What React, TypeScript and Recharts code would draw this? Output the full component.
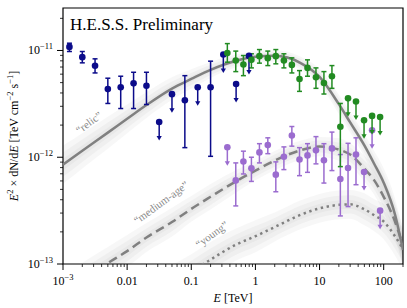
import React from 'react';
import {
  ComposedChart,
  XAxis,
  YAxis,
  Scatter,
  Line,
  Area,
  ErrorBar,
  ReferenceArea,
  ReferenceDot,
} from 'recharts';

// Fermi-LAT points (blue); null lo/hi = upper limit
const fermiE = [0.00126, 0.002, 0.00316, 0.005, 0.00794, 0.0126, 0.02, 0.0316, 0.05, 0.0794, 0.126, 0.2, 0.316, 0.5, 0.794];
const fermiFlux = [1.08e-11, 8.66e-12, 7.2e-12, 4.35e-12, 4.52e-12, 4.92e-12, 4.68e-12, 2.14e-12, 3.9e-12, 3.42e-12, 4.52e-12, 4.52e-12, 9.17e-12, 4.85e-12, 8.9e-12];
const fermiLo = [9.78e-12, 7.66e-12, 6.16e-12, 3.19e-12, 2.86e-12, 2.86e-12, 3.12e-12, null, null, 1.23e-12, null, 1.02e-12, null, null, null];
const fermiHi = [1.17e-11, 9.78e-12, 8.35e-12, 5.5e-12, 5.74e-12, 6.25e-12, 6.25e-12, null, null, 5.81e-12, null, 7.94e-12, null, null, null];

// H.E.S.S. energy bins (shared by green and purple)
const hessE = [0.365, 0.494, 0.65, 0.866, 1.155, 1.56, 2.08, 2.78, 3.7, 4.87, 6.49, 8.79, 11.7, 15.6, 21.1, 27.8, 37.0, 49.4, 65.9, 87.9];

const greenFlux = [9.45e-12, 8.05e-12, 7.38e-12, 8.17e-12, 8.85e-12, 8.48e-12, 8.85e-12, 8.05e-12, 7.33e-12, 5.41e-12, 6.87e-12, 5.61e-12, 4.96e-12, 5.74e-12, 1.93e-12, 3.56e-12, 3.33e-12, 2.22e-12, 2.44e-12, 2.38e-12];
const greenLo = [7.77e-12, 6.34e-12, 5.81e-12, 6.87e-12, 7.61e-12, 7.22e-12, 7.5e-12, 6.87e-12, 6.16e-12, 4.14e-12, 5.74e-12, 4.42e-12, 3.91e-12, 4.42e-12, 8.17e-13, null, null, null, null, null];
const greenHi = [1.16e-11, 9.87e-12, 8.97e-12, 9.31e-12, 1.02e-11, 9.87e-12, 1.02e-11, 9.31e-12, 8.53e-12, 6.48e-12, 8.17e-12, 6.87e-12, 6.34e-12, 7.22e-12, 3.19e-12, null, null, null, null, null];

const purpleFlux = [1.24e-12, 6.07e-13, 9.11e-13, 7.87e-13, 1.11e-12, 1.3e-12, 6.87e-13, 1.01e-12, 1.6e-12, 9.51e-13, 1.04e-12, 1.16e-12, 9.37e-13, 1.21e-12, 6.25e-13, 7.94e-13, 1.06e-12, 7.28e-13, 1.79e-12, 3.16e-13];
const purpleLo = [null, 3.5e-13, 6.97e-13, 5.94e-13, 8.85e-13, 1.08e-12, 4.75e-13, 7.66e-13, 1.27e-12, 6.72e-13, 7.22e-13, 8.67e-13, 5.73e-13, 7.5e-13, 2.82e-13, 3.45e-13, 5.53e-13, null, null, null];
const purpleHi = [null, 8.85e-13, 1.14e-12, 1.0e-12, 1.34e-12, 1.52e-12, 9.05e-13, 1.25e-12, 1.94e-12, 1.23e-12, 1.34e-12, 1.56e-12, 1.34e-12, 1.72e-12, 1.06e-12, 1.35e-12, 1.52e-12, null, null, null];

// model curves
const modelE = [0.001, 0.002, 0.005, 0.01, 0.02, 0.05, 0.1, 0.2, 0.5, 1, 2, 5, 10, 20, 30, 50, 70, 100, 150, 200];
const relicFlux = [8.53e-13, 1.15e-12, 1.7e-12, 2.29e-12, 3.08e-12, 4.4e-12, 5.41e-12, 6.58e-12, 8.0e-12, 8.72e-12, 8.91e-12, 7.66e-12, 5.65e-12, 3.14e-12, 2.12e-12, 1.29e-12, 8.83e-13, 5.77e-13, 2.91e-13, 1.35e-13];
const relicSpread = [0.12, 0.11, 0.1, 0.09, 0.08, 0.07, 0.06, 0.05, 0.04, 0.035, 0.035, 0.04, 0.05, 0.06, 0.065, 0.07, 0.08, 0.09, 0.1, 0.12];
const mediumFlux = [5.24e-14, 7.02e-14, 1.02e-13, 1.32e-13, 1.77e-13, 2.47e-13, 3.28e-13, 4.26e-13, 5.96e-13, 7.49e-13, 9.31e-13, 1.16e-12, 1.26e-12, 1.18e-12, 1.06e-12, 7.82e-13, 6.17e-13, 4.26e-13, 2.5e-13, 1.47e-13];
const mediumSpread = [0.12, 0.11, 0.1, 0.1, 0.09, 0.09, 0.08, 0.08, 0.07, 0.06, 0.06, 0.06, 0.06, 0.07, 0.07, 0.08, 0.09, 0.1, 0.11, 0.12];
const youngE = [0.02, 0.05, 0.1, 0.2, 0.5, 1, 2, 5, 10, 20, 30, 50, 70, 100, 150, 200];
const youngFlux = [4.55e-14, 6.45e-14, 8.44e-14, 1.1e-13, 1.52e-13, 1.82e-13, 2.22e-13, 2.88e-13, 3.32e-13, 3.58e-13, 3.62e-13, 3.25e-13, 2.88e-13, 2.5e-13, 1.82e-13, 1.38e-13];
const youngSpread = [0.12, 0.12, 0.11, 0.11, 0.1, 0.1, 0.09, 0.09, 0.09, 0.09, 0.09, 0.1, 0.1, 0.11, 0.12, 0.13];

const curveLabels = ['\u201Crelic\u201D', '\u201Cmedium-age\u201D', '\u201Cyoung\u201D'];
const curveLabelE = [0.00252, 0.0337, 0.208];
const curveLabelF = [2.12e-12, 3.78e-13, 1.9e-13];

const xDomain = [0.001, 200];
const yDomain = [1e-13, 2.5e-11];
const xMajorTicks = [0.001, 0.01, 0.1, 1, 10, 100];
const xMajorLabels = ['10^-3', '0.01', '0.1', '1', '10', '100'];
const yMajorTicks = [1e-13, 1e-12, 1e-11];
const yMajorLabels = ['10^-13', '10^-12', '10^-11'];
const mantissas = [1, 2, 3, 4, 5, 6, 7, 8, 9];

const xTicks = xMajorTicks.flatMap((d) => mantissas.map((m) => d * m)).filter((v) => v <= 200.0001);
const yTicks = yMajorTicks.flatMap((d) => mantissas.map((m) => d * m)).filter((v) => v <= 2.5e-11);

const SERIF = '"Liberation Serif", "DejaVu Serif", serif';
const BLUE = '#0b0b8a';
const GREEN = '#228b22';
const PURPLE = '#9b6ccf';
const GREY = '#808080';

const points = (E: number[], F: number[], lo: (number | null)[], hi: (number | null)[]) =>
  E.map((x, i) => (lo[i] == null ? null : { x, y: F[i], err: [F[i] - (lo[i] as number), (hi[i] as number) - F[i]] })).filter(Boolean) as any[];
const limits = (E: number[], F: number[], lo: (number | null)[]) =>
  E.map((x, i) => (lo[i] == null ? { x, y: F[i] } : null)).filter(Boolean) as any[];
const line = (E: number[], F: number[]) => E.map((x, i) => ({ x, y: F[i] }));
const band = (E: number[], F: number[], w: number[], k: number) =>
  E.map((x, i) => ({ x, band: [F[i] * Math.pow(10, -w[i] * k), F[i] * Math.pow(10, w[i] * k)] }));

const findLabel = (ticks: number[], labels: string[], v: number) => {
  const i = ticks.findIndex((t) => Math.abs(t - v) / t < 1e-6);
  return i >= 0 ? labels[i] : null;
};

function TickText({ x, y, label, anchor }: any) {
  if (label.startsWith('10^')) {
    return (
      <text x={x} y={y} textAnchor={anchor} fontSize={12} fontFamily={SERIF} fill="#000">
        10
        <tspan dy={-5} fontSize={8.5}>{'\u2212' + label.slice(4)}</tspan>
      </text>
    );
  }
  return (
    <text x={x} y={y} textAnchor={anchor} fontSize={12} fontFamily={SERIF} fill="#000">
      {label}
    </text>
  );
}

function XTick(props: any) {
  const { x, y, payload } = props;
  const label = findLabel(xMajorTicks, xMajorLabels, payload.value);
  return (
    <g>
      <line x1={x} x2={x} y1={y} y2={y + (label ? 6 : 3)} stroke="#000" strokeWidth={label ? 1 : 0.8} />
      {label && <TickText x={x} y={y + 21} label={label} anchor="middle" />}
    </g>
  );
}

function YTick(props: any) {
  const { x, y, payload } = props;
  const label = findLabel(yMajorTicks, yMajorLabels, payload.value);
  return (
    <g>
      <line x1={x} x2={x - (label ? 6 : 3)} y1={y} y2={y} stroke="#000" strokeWidth={label ? 1 : 0.8} />
      {label && <TickText x={x - 10} y={y + 4} label={label} anchor="end" />}
    </g>
  );
}

const dotShape = (color: string) => (p: any) => <circle cx={p.cx} cy={p.cy} r={3.3} fill={color} />;
const limitShape = (color: string) => (p: any) => (
  <g>
    <circle cx={p.cx} cy={p.cy} r={3.3} fill={color} />
    <line x1={p.cx} y1={p.cy} x2={p.cx} y2={p.cy + 15} stroke={color} strokeWidth={1.5} />
    <path d={`M${p.cx - 2.6},${p.cy + 14} L${p.cx + 2.6},${p.cy + 14} L${p.cx},${p.cy + 18.5} Z`} fill={color} />
  </g>
);

const CurveLabel = (text: string) => (props: any) => {
  const vb = props.viewBox || {};
  const cx = (vb.x || 0) + (vb.width || 0) / 2;
  const cy = (vb.y || 0) + (vb.height || 0) / 2;
  return (
    <text
      x={cx}
      y={cy}
      textAnchor="middle"
      dominantBaseline="central"
      transform={`rotate(-36 ${cx} ${cy})`}
      fontSize={11}
      fontFamily={SERIF}
      fill="#8a8a8a"
    >
      {text}
    </text>
  );
};

const bandLayers = [1.5, 0.95, 0.45];

export default function App() {
  const curves = [
    { E: modelE, F: relicFlux, w: relicSpread, dash: undefined },
    { E: modelE, F: mediumFlux, w: mediumSpread, dash: '9 5' },
    { E: youngE, F: youngFlux, w: youngSpread, dash: '2.4 3.6' },
  ];
  return (
    <div style={{ position: 'absolute', left: 0, top: 0, width: 407, height: 308, background: '#fff' }}>
      <ComposedChart width={407} height={308} margin={{ top: 8, right: 4, bottom: 0, left: 0 }}>
        <XAxis
          dataKey="x"
          type="number"
          scale="log"
          domain={xDomain}
          allowDataOverflow
          ticks={xTicks}
          interval={0}
          tickSize={0}
          tickMargin={0}
          axisLine={false}
          tickLine={false}
          tick={<XTick />}
          height={44}
        />
        <YAxis
          dataKey="y"
          type="number"
          scale="log"
          domain={yDomain}
          allowDataOverflow
          ticks={yTicks}
          interval={0}
          tickSize={0}
          tickMargin={0}
          axisLine={false}
          tickLine={false}
          tick={<YTick />}
          width={63}
        />
        {curves.map((c, ci) =>
          bandLayers.map((k, li) => (
            <Area
              key={`band-${ci}-${li}`}
              data={band(c.E, c.F, c.w, k)}
              dataKey="band"
              type="monotone"
              stroke="none"
              fill="#8c8c8c"
              fillOpacity={0.07}
              isAnimationActive={false}
            />
          ))
        )}
        {curves.map((c, ci) => (
          <Line
            key={`curve-${ci}`}
            data={line(c.E, c.F)}
            dataKey="y"
            type="monotone"
            stroke={GREY}
            strokeWidth={2.5}
            strokeDasharray={c.dash}
            dot={false}
            isAnimationActive={false}
          />
        ))}
        <Scatter data={points(hessE, purpleFlux, purpleLo, purpleHi)} dataKey="y" shape={dotShape(PURPLE)} isAnimationActive={false}>
          <ErrorBar dataKey="err" direction="y" width={2.5} stroke={PURPLE} strokeWidth={1.5} />
        </Scatter>
        <Scatter data={limits(hessE, purpleFlux, purpleLo)} dataKey="y" shape={limitShape(PURPLE)} isAnimationActive={false} />
        <Scatter data={points(fermiE, fermiFlux, fermiLo, fermiHi)} dataKey="y" shape={dotShape(BLUE)} isAnimationActive={false}>
          <ErrorBar dataKey="err" direction="y" width={2.5} stroke={BLUE} strokeWidth={1.5} />
        </Scatter>
        <Scatter data={limits(fermiE, fermiFlux, fermiLo)} dataKey="y" shape={limitShape(BLUE)} isAnimationActive={false} />
        <Scatter data={points(hessE, greenFlux, greenLo, greenHi)} dataKey="y" shape={dotShape(GREEN)} isAnimationActive={false}>
          <ErrorBar dataKey="err" direction="y" width={2.5} stroke={GREEN} strokeWidth={1.5} />
        </Scatter>
        <Scatter data={limits(hessE, greenFlux, greenLo)} dataKey="y" shape={limitShape(GREEN)} isAnimationActive={false} />
        {curveLabels.map((t, i) => (
          <ReferenceDot
            key={t}
            x={curveLabelE[i]}
            y={curveLabelF[i]}
            r={1}
            fill="none"
            stroke="none"
            label={CurveLabel(t)}
          />
        ))}
        <ReferenceArea
          x1={xDomain[0]}
          x2={xDomain[1]}
          y1={yDomain[0]}
          y2={yDomain[1]}
          fill="none"
          stroke="#000"
          strokeWidth={1.2}
          ifOverflow="visible"
        />
      </ComposedChart>
      <svg width={407} height={308} style={{ position: 'absolute', left: 0, top: 0, pointerEvents: 'none' }}>
        <text x={70} y={30} fontSize={17} fontFamily={SERIF} fill="#000">
          H.E.S.S. Preliminary
        </text>
        <text x={233} y={302} textAnchor="middle" fontSize={12} fontFamily={SERIF} fill="#000">
          <tspan fontStyle="italic">E</tspan> [TeV]
        </text>
        <text
          x={18}
          y={136}
          textAnchor="middle"
          transform="rotate(-90 18 136)"
          fontSize={12}
          fontFamily={SERIF}
          fill="#000"
        >
          <tspan fontStyle="italic">E</tspan>
          <tspan dy={-5} fontSize={8.5}>2</tspan>
          <tspan dy={5}> × dN/d</tspan>
          <tspan fontStyle="italic">E</tspan>
          <tspan> [TeV cm</tspan>
          <tspan dy={-5} fontSize={8.5}>{'\u22122'}</tspan>
          <tspan dy={5}> s</tspan>
          <tspan dy={-5} fontSize={8.5}>{'\u22121'}</tspan>
          <tspan dy={5}>]</tspan>
        </text>
      </svg>
    </div>
  );
}
